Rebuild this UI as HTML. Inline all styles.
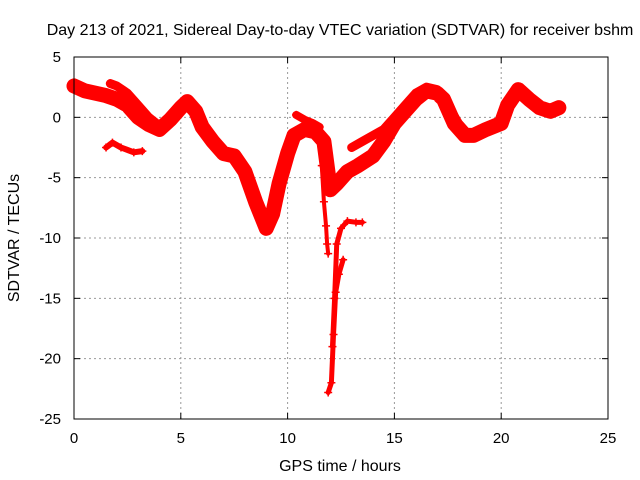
<!DOCTYPE html>
<html><head><meta charset="utf-8"><style>
body{margin:0;background:#fff}
svg{display:block;font-family:"Liberation Sans",sans-serif}
</style></head><body>
<svg id="chart" width="640" height="480">
<rect width="640" height="480" fill="#fff"/>
<text x="340" y="35" font-size="16" text-anchor="middle">Day 213 of 2021, Sidereal Day-to-day VTEC variation (SDTVAR) for receiver bshm</text>
<text x="340" y="471" font-size="16" text-anchor="middle">GPS time / hours</text>
<text transform="translate(19,238) rotate(-90)" font-size="16" text-anchor="middle">SDTVAR / TECUs</text>
<g id="grid"></g><g id="marks"></g>
<rect x="74" y="57" width="534" height="362" fill="none" stroke="#000"/>
</svg>
<script>
const xTicks=[0,5,10,15,20,25];
const yTicks=[5,0,-5,-10,-15,-20,-25];
const mainX=[0,0.5,1,1.5,2,2.5,3,3.5,4,4.5,5,5.3,5.7,6,6.5,7,7.5,8,8.5,9,9.3,9.6,10,10.3,10.8,11.3,11.7,12,12.3,12.8,13.3,14,14.5,15,15.5,16,16.5,17,17.3,17.8,18.3,18.7,19.3,20,20.3,20.8,21.3,21.8,22.3,22.7];
const mainY=[2.6,2.2,2.0,1.8,1.5,1.0,0,-0.6,-1.0,-0.2,0.8,1.3,0.5,-0.8,-2,-3,-3.2,-4.5,-7,-9.2,-8,-5.5,-3,-1.5,-1,-1.2,-2,-6,-5.5,-4.5,-4,-3.2,-2,-0.5,0.5,1.5,2.2,2.0,1.5,-0.5,-1.5,-1.5,-1.0,-0.5,1.0,2.3,1.5,0.8,0.5,0.8];
const upperX=[1.7,2,2.5,3,3.5,4];
const upperY=[2.8,2.6,2.0,1.0,0,-0.7];
const upper2X=[13,13.5,14,14.5,15,15.5,16,16.5,17,17.5,18,18.5];
const upper2Y=[-2.5,-2,-1.5,-1,0,1,2,2.5,2.3,1,-0.5,-1.5];
const smallX=[1.5,1.8,2.2,2.8,3.2];
const smallY=[-2.5,-2.1,-2.5,-2.9,-2.8];
const dropX=[11.5,11.6,11.7,11.8,11.85,11.9];
const dropY=[-2,-4,-7,-9,-10.5,-11.3];
const spikeX=[11.9,12.05,12.15,12.25,12.4,12.6];
const spikeY=[-22.8,-22,-18,-14.5,-13,-11.8];
const recX=[12.1,12.2,12.3,12.5,12.8,13.2,13.5];
const recY=[-19,-15,-10.5,-9.2,-8.6,-8.7,-8.7];
const sideX=[10.4,10.8,11.2,11.5];
const sideY=[0.2,-0.2,-0.5,-0.8];
const sx=v=>74+v*534/25, sy=v=>57+(5-v)*362/30;
const NS='http://www.w3.org/2000/svg';
const grid=document.getElementById('grid'), marks=document.getElementById('marks');
function mk(t,a,p){const e=document.createElementNS(NS,t);for(const k in a)e.setAttribute(k,a[k]);p.appendChild(e);return e;}
xTicks.forEach(v=>{
 if(v>0&&v<25){const l=mk('line',{x1:sx(v),x2:sx(v),y1:57,y2:419,stroke:'#999','stroke-dasharray':'2,3'},grid);
 
 }
 const t=mk('text',{x:sx(v),y:443,'font-size':15,'text-anchor':'middle'},grid);t.textContent=v;
 
 
 mk('line',{x1:sx(v),x2:sx(v),y1:419,y2:413,stroke:'#000'},grid);mk('line',{x1:sx(v),x2:sx(v),y1:57,y2:63,stroke:'#000'},grid);
});
yTicks.forEach(v=>{
 if(v<5&&v>-25){const l=mk('line',{x1:74,x2:608,y1:sy(v),y2:sy(v),stroke:'#999','stroke-dasharray':'2,3'},grid);
 
 }
 const t=mk('text',{x:61,y:sy(v)+5,'font-size':15,'text-anchor':'end'},grid);t.textContent=v;
 
 
 mk('line',{x1:74,x2:80,y1:sy(v),y2:sy(v),stroke:'#000'},grid);mk('line',{x1:608,x2:602,y1:sy(v),y2:sy(v),stroke:'#000'},grid);
});
function series(xs,ys,w,name){
 const g=mk('g',{},marks);
 
 
 mk('polyline',{points:xs.map((x,i)=>sx(x)+','+sy(ys[i])).join(' '),fill:'none',stroke:'#f00','stroke-width':w,'stroke-linejoin':'round','stroke-linecap':'round'},g);
 xs.forEach((x,i)=>{const X=sx(x),Y=sy(ys[i]);
  mk('path',{d:`M${X-4},${Y}h8M${X},${Y-4}v8`,stroke:'#f00','stroke-width':1.5},g);});
}
series(mainX,mainY,15,'main-series');
series(upperX,upperY,9,'upper-branch-series');
series(upper2X,upper2Y,9,'afternoon-branch-series');
series(smallX,smallY,6,'small-segment-series');
series(dropX,dropY,4,'drop-series');
series(spikeX,spikeY,5,'spike-series');
series(recX,recY,5,'recovery-series');
series(sideX,sideY,8,'side-series');
</script>
</body></html>
